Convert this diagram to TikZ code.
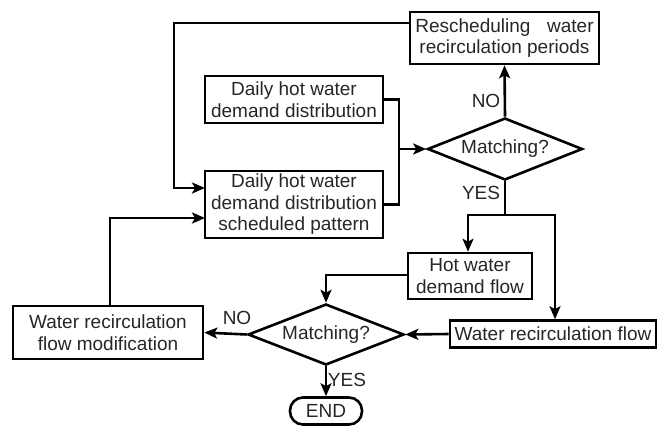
\documentclass[tikz,border=0pt]{standalone}
\usepackage{fontspec}
\setmainfont{Liberation Sans}
\usetikzlibrary{shapes.geometric,arrows.meta,calc}
\begin{document}
\begin{tikzpicture}[x=1pt,y=1pt,
  every node/.style={font=\fontsize{19}{21.5}\selectfont, text=black!85},
  box/.style={draw=black, line width=2.6pt, rectangle, align=center, inner sep=0pt},
  dec/.style={draw=black, line width=2.6pt, diamond, aspect=2.5, inner sep=0pt, minimum width=155pt, minimum height=62pt},
  conn/.style={line width=2.6pt, draw=black},
  arr/.style={conn, -{Stealth[length=13pt,width=11pt,inset=3pt]}},
  lbl/.style={inner sep=1pt}]
\useasboundingbox (0,0) rectangle (668,-426);
\node[box, minimum width=189pt, minimum height=52pt] (R) at (504.5,-38) {Rescheduling\hspace{0.6em} water\\recirculation periods};
\node[box, minimum width=178pt, minimum height=47pt] (D1) at (294,-99.5) {Daily hot water\\demand distribution};
\node[box, minimum width=178pt, minimum height=67pt] (D2) at (294,-204.5) {Daily hot water\\demand distribution\\scheduled pattern};
\node[dec] (M1) at (505,-149) {Matching?};
\node[box, minimum width=124pt, minimum height=46pt] (HW) at (470,-276) {Hot water\\demand flow};
\node[box, minimum width=206pt, minimum height=27pt] (WRF) at (553,-334) {Water recirculation flow};
\node[dec, minimum width=156pt, minimum height=61pt] (M2) at (326,-334.5) {Matching?};
\node[box, minimum width=190pt, minimum height=53pt] (WRFM) at (108,-332.5) {Water recirculation\\flow modification};
\node[draw=black, line width=2.6pt, rounded corners=13pt, minimum width=72pt, minimum height=27pt, inner sep=0pt] (END) at (326,-411) {END};

% labels
\node[lbl] (no1) at (486,-101) {NO};
\node[lbl] (yes1) at (481,-193) {YES};
\node[lbl] (no2) at (237,-318) {NO};
\node[lbl] (yes2) at (347,-380) {YES};

% junctions
\coordinate (j1) at (399,-149);
\coordinate (j2) at (505,-215);
\coordinate (rl) at (410,-23);
\coordinate (c1) at (174,-23);
\coordinate (c2) at (174,-188);
\coordinate (d2a) at (205,-188);
\coordinate (d2b) at (205,-218);
\coordinate (c3) at (110,-218);
\coordinate (c4) at (110,-306);
\coordinate (hwl) at (408,-275);

\draw[conn] (D1.east) -| (j1) |- (D2.east);
\draw[arr] (j1) -- (M1.west);
\draw[arr] (M1.north) -- (R.south);
\draw[arr] (rl) -- (c1) -- (c2) -- (d2a);
\draw[arr] (M1.south) -- (j2) -| ($(HW.north)+(-2,0)$);
\draw[arr] (j2) -| ($(WRF.north)+(2,0)$);
\draw[arr] (hwl) -| (M2.north);
\draw[arr] (WRF.west) -- (M2.east);
\draw[arr] (M2.west) -- (WRFM.east);
\draw[arr] (c4) -- (c3) -- (d2b);
\draw[arr] (M2.south) -- (END.north);
\end{tikzpicture}
\end{document}
